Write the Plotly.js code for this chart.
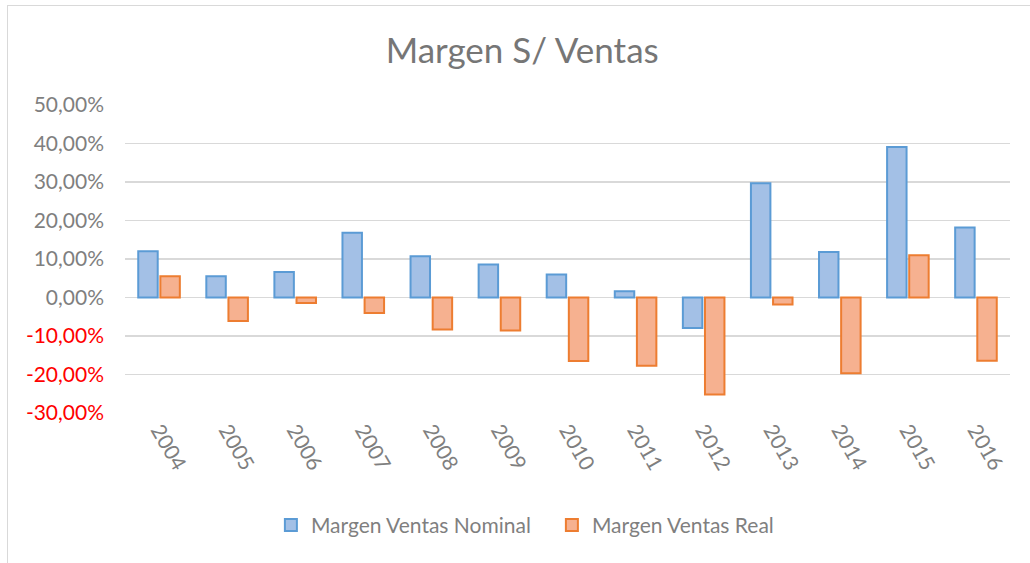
<!DOCTYPE html>
<html>
<head>
<meta charset="utf-8">
<script src="https://cdn.plot.ly/plotly-3.0.1.min.js"></script>
<style>
html,body{margin:0;padding:0;background:#fff;}
#frame{position:absolute;left:7px;top:5px;width:1040px;height:570px;border:1px solid #d9d9d9;box-sizing:border-box;}
#chart{position:absolute;left:0;top:0;width:1030px;height:563px;}
</style>
</head>
<body>
<div id="frame"></div>
<div id="chart"></div>
<script>
var years = ['2004','2005','2006','2007','2008','2009','2010','2011','2012','2013','2014','2015','2016'];
var nominal = [12.0, 5.5, 6.6, 16.8, 10.7, 8.6, 6.0, 1.6, -7.9, 29.7, 11.8, 39.1, 18.2];
var real = [5.5, -6.1, -1.4, -4.0, -8.3, -8.6, -16.5, -17.7, -25.2, -1.8, -19.7, 11.0, -16.4];
var tickVals = [50, 40, 30, 20, 10, 0, -10, -20, -30];
var tickLabels = ['50,00%','40,00%','30,00%','20,00%','10,00%','0,00%','-10,00%','-20,00%','-30,00%'];

var ticktext = tickVals.map(function(v, i){
  return v < 0 ? '<span style="color:#ff0000">' + tickLabels[i] + '</span>' : tickLabels[i];
});

var font = 'Lato, "Open Sans", sans-serif';

var traces = [
  {type:'bar', name:'Margen Ventas Nominal', x: years, y: nominal,
   marker:{color:'#a3c0e6', line:{color:'#5b9bd5', width:2}}, hoverinfo:'x+y'},
  {type:'bar', name:'Margen Ventas Real', x: years, y: real,
   marker:{color:'#f6b190', line:{color:'#ed7d31', width:2}}, hoverinfo:'x+y'}
];

var layout = {
  width:1030, height:563,
  paper_bgcolor:'rgba(0,0,0,0)', plot_bgcolor:'rgba(0,0,0,0)',
  margin:{l:125, r:20, t:105, b:150},
  font:{family:font, color:'#7f7f7f', size:21},
  title:{text:'Margen S/ Ventas', x:0.507, xanchor:'center', y:0.91, yanchor:'middle',
         font:{family:font, size:35, color:'#767676'}},
  barmode:'group', bargap:0.35, bargroupgap:0.12,
  xaxis:{type:'category', tickangle:60, showgrid:false, zeroline:false, showline:false,
         ticks:'', tickfont:{size:21, color:'#7f7f7f'}, automargin:false},
  yaxis:{range:[-30,50], tickvals:tickVals, ticktext:ticktext, showgrid:true,
         gridcolor:'#d9d9d9', gridwidth:1.8, zeroline:true, zerolinecolor:'#d9d9d9', zerolinewidth:1.8,
         showline:false, ticks:'', ticklen:0, ticklabelstandoff:20,
         tickfont:{size:21, color:'#7f7f7f'}, automargin:false},
  legend:{orientation:'h', x:0.263, xanchor:'left', xref:'container', yref:'container', y:0.067, yanchor:'middle',
          font:{size:21, color:'#7f7f7f'}, itemwidth:30, entrywidth:236, entrywidthmode:'pixels', traceorder:'normal'},
  showlegend:true
};

Plotly.newPlot('chart', traces, layout, {displayModeBar:false, staticPlot:true});
</script>
</body>
</html>
